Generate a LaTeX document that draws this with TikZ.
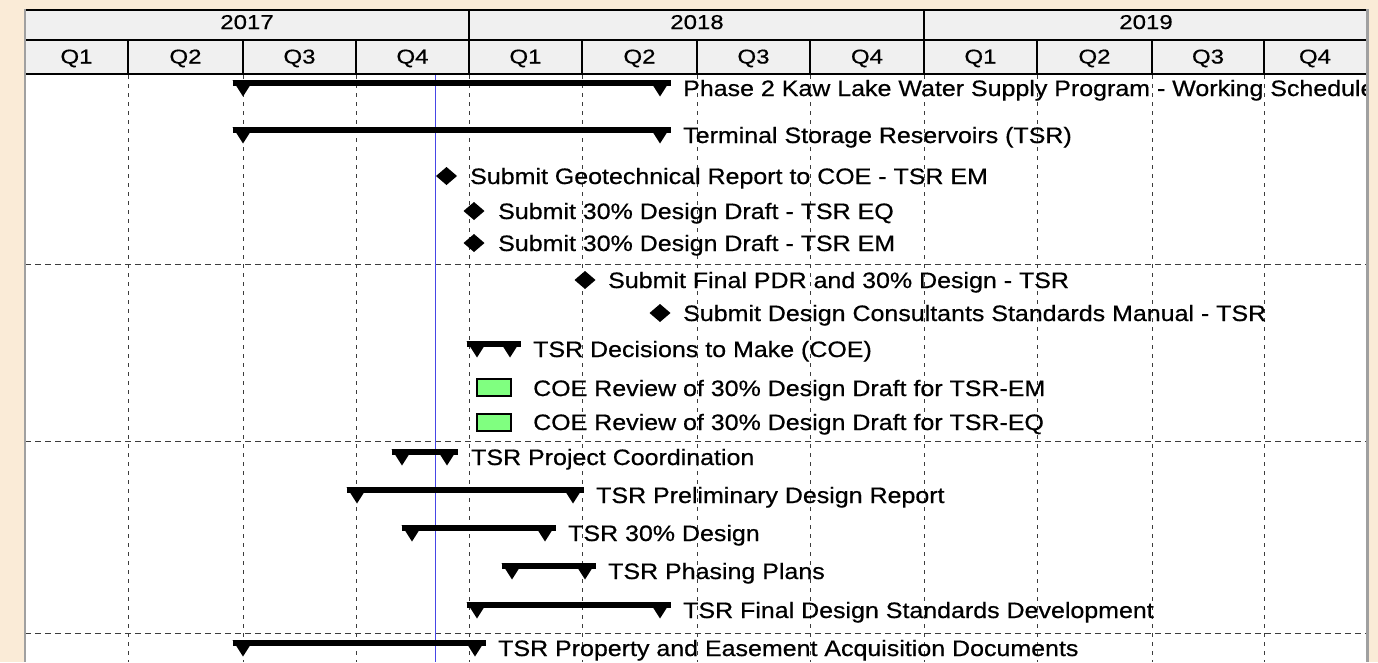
\documentclass[tikz,border=0pt]{standalone}
\usepackage{fontspec}
\setmainfont[FakeStretch=1.12,FakeBold=0.6]{Liberation Sans}
\newfontfamily\hdrfont[FakeStretch=1.2,FakeBold=0.5]{Liberation Sans}
\definecolor{pagebg}{RGB}{250,235,215}
\definecolor{hdrfill}{RGB}{240,240,240}
\definecolor{framegray}{RGB}{160,160,160}
\definecolor{todayblue}{RGB}{70,70,230}
\definecolor{revgreen}{RGB}{128,255,128}
\definecolor{griddark}{RGB}{60,60,60}
\newcommand{\gsumbar}[3]{%
  \fill[black] (#2-10.5,#1) rectangle (#3+10.5,#1+5.5);
  \fill[black] (#2-10.5,#1) -- (#2+10.5,#1) -- (#2,#1+16.5) -- cycle;
  \fill[black] (#3-10.5,#1) -- (#3+10.5,#1) -- (#3,#1+16.5) -- cycle;}
\newcommand{\gmile}[2]{%
  \fill[black] (#1-10.5,#2) -- (#1,#2-9) -- (#1+10.5,#2) -- (#1,#2+9) -- cycle;}
\begin{document}
\begin{tikzpicture}[x=1pt,y=-1pt,
  lbl/.style={anchor=base west,inner sep=0pt,font=\fontsize{22.3}{24}\selectfont},
  hdr/.style={anchor=base,inner sep=0pt,font=\hdrfont\fontsize{20}{21}\selectfont},
  vgrid/.style={griddark,line width=1pt,dash pattern=on 4pt off 5pt},
  hgrid/.style={griddark,line width=1pt,dash pattern=on 6pt off 4pt},
  revbox/.style={draw=black,fill=revgreen,line width=1.5pt}]
\useasboundingbox (0,0) rectangle (1378,662);
\fill[pagebg] (0,0) rectangle (1378,662);
\fill[white] (25,10) rectangle (1366,662);
% header
\fill[hdrfill] (25,10) rectangle (1366,74);
\draw[black,line width=1.2pt] (25,10) -- (1366,10);
\draw[black,line width=1.3pt] (25,40) -- (1366,40);
\draw[black,line width=1.2pt] (469,10) -- (469,40) (924,10) -- (924,40);
\foreach \qx in {128,243,356,469,582,697,810,924,1037,1152,1264}
  \draw[black,line width=1.8pt] (\qx,40) -- (\qx,74);
\draw[black,line width=2pt] (25,74) -- (1366,74);
\node[hdr] (y17) at (247,29) {2017};
\node[hdr] (y18) at (697,29) {2018};
\node[hdr] (y19) at (1146,29) {2019};
\foreach \cx/\qn [count=\i] in {76.5/Q1,185.5/Q2,299.5/Q3,412.5/Q4,525.5/Q1,639.5/Q2,753.5/Q3,867/Q4,980.5/Q1,1094.5/Q2,1208/Q3,1315/Q4}
  \node[hdr] (q\i) at (\cx,63.5) {\qn};
% grid
\foreach \qx in {128,243,356,469,582,697,810,924,1037,1152,1264}
  \draw[vgrid] (\qx,75) -- (\qx,662);
\foreach \hy in {264,441,633}
  \draw[hgrid] (25,\hy) -- (1366,\hy);
\draw[todayblue,line width=1pt] (435,75) -- (435,662);
% tasks
\begin{scope}
\clip (25,75) rectangle (1366,662);
\gsumbar{80}{243}{660}
\node[lbl] (t1) at (683,96) {Phase 2 Kaw Lake Water Supply Program - Working Schedule};
\gsumbar{127}{243}{660}
\node[lbl] (t2) at (683,143) {Terminal Storage Reservoirs (TSR)};
\gmile{446.5}{176}
\node[lbl] (t3) at (470,184) {Submit Geotechnical Report to COE - TSR EM};
\gmile{474}{211}
\node[lbl] (t4) at (498,219) {Submit 30\% Design Draft - TSR EQ};
\gmile{474}{243}
\node[lbl] (t5) at (498,251) {Submit 30\% Design Draft - TSR EM};
\gmile{585}{280}
\node[lbl] (t6) at (608,288) {Submit Final PDR and 30\% Design - TSR};
\gmile{660}{313}
\node[lbl] (t7) at (683,321) {Submit Design Consultants Standards Manual - TSR};
\gsumbar{341}{477}{510}
\node[lbl] (t8) at (533,357) {TSR Decisions to Make (COE)};
\draw[revbox] (477,379) rectangle (511,396);
\node[lbl] (t9) at (533,396) {COE Review of 30\% Design Draft for TSR-EM};
\draw[revbox] (477,414) rectangle (511,431);
\node[lbl] (t10) at (533,430) {COE Review of 30\% Design Draft for TSR-EQ};
\gsumbar{449}{402}{447}
\node[lbl] (t11) at (471,465) {TSR Project Coordination};
\gsumbar{487}{357}{573}
\node[lbl] (t12) at (596,503) {TSR Preliminary Design Report};
\gsumbar{525}{412}{545}
\node[lbl] (t13) at (568,541) {TSR 30\% Design};
\gsumbar{563}{512}{585}
\node[lbl] (t14) at (608,579) {TSR Phasing Plans};
\gsumbar{602}{477}{660}
\node[lbl] (t15) at (683,618) {TSR Final Design Standards Development};
\gsumbar{640}{243}{475}
\node[lbl] (t16) at (498,656) {TSR Property and Easement Acquisition Documents};
\end{scope}
% frame
\draw[framegray,line width=2.5pt] (25,9) -- (25,662);
\draw[framegray,line width=3pt] (1367.5,9) -- (1367.5,662);
\end{tikzpicture}
\end{document}
